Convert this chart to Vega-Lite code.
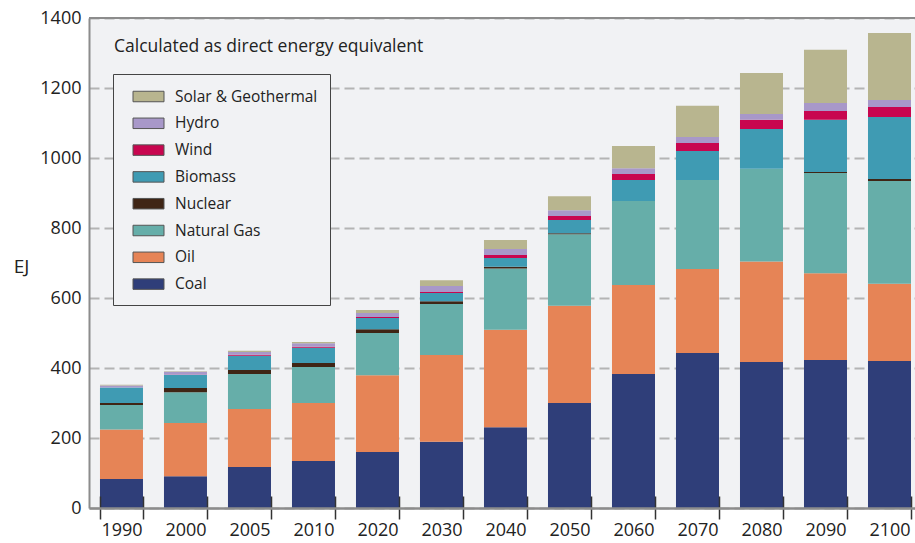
{
  "$schema": "https://vega.github.io/schema/vega-lite/v6.json",
  "width": 826,
  "height": 490,
  "autosize": {"type": "none"},
  "padding": {"left": 89, "top": 18, "right": 0, "bottom": 35},
  "background": "white",
  "title": {
    "text": "Calculated as direct energy equivalent",
    "anchor": "start",
    "frame": "group",
    "orient": "top",
    "baseline": "alphabetic",
    "offset": 0,
    "dx": 25,
    "dy": 60,
    "fontSize": 17.5,
    "fontWeight": "normal",
    "color": "#222"
  },
  "data": {
    "values": [
      {"year": "1990", "source": "Coal", "EJ": 83, "k": 1},
      {"year": "1990", "source": "Oil", "EJ": 141, "k": 2},
      {"year": "1990", "source": "Natural Gas", "EJ": 70, "k": 3},
      {"year": "1990", "source": "Nuclear", "EJ": 6, "k": 4},
      {"year": "1990", "source": "Biomass", "EJ": 44, "k": 5},
      {"year": "1990", "source": "Wind", "EJ": 0, "k": 6},
      {"year": "1990", "source": "Hydro", "EJ": 6, "k": 7},
      {"year": "1990", "source": "Solar & Geothermal", "EJ": 2, "k": 8},
      {"year": "2000", "source": "Coal", "EJ": 91, "k": 1},
      {"year": "2000", "source": "Oil", "EJ": 152, "k": 2},
      {"year": "2000", "source": "Natural Gas", "EJ": 88, "k": 3},
      {"year": "2000", "source": "Nuclear", "EJ": 12, "k": 4},
      {"year": "2000", "source": "Biomass", "EJ": 37, "k": 5},
      {"year": "2000", "source": "Wind", "EJ": 1, "k": 6},
      {"year": "2000", "source": "Hydro", "EJ": 8, "k": 7},
      {"year": "2000", "source": "Solar & Geothermal", "EJ": 2, "k": 8},
      {"year": "2005", "source": "Coal", "EJ": 117, "k": 1},
      {"year": "2005", "source": "Oil", "EJ": 166, "k": 2},
      {"year": "2005", "source": "Natural Gas", "EJ": 100, "k": 3},
      {"year": "2005", "source": "Nuclear", "EJ": 11, "k": 4},
      {"year": "2005", "source": "Biomass", "EJ": 41, "k": 5},
      {"year": "2005", "source": "Wind", "EJ": 3, "k": 6},
      {"year": "2005", "source": "Hydro", "EJ": 8, "k": 7},
      {"year": "2005", "source": "Solar & Geothermal", "EJ": 3, "k": 8},
      {"year": "2010", "source": "Coal", "EJ": 134, "k": 1},
      {"year": "2010", "source": "Oil", "EJ": 166, "k": 2},
      {"year": "2010", "source": "Natural Gas", "EJ": 103, "k": 3},
      {"year": "2010", "source": "Nuclear", "EJ": 11, "k": 4},
      {"year": "2010", "source": "Biomass", "EJ": 44, "k": 5},
      {"year": "2010", "source": "Wind", "EJ": 3, "k": 6},
      {"year": "2010", "source": "Hydro", "EJ": 10, "k": 7},
      {"year": "2010", "source": "Solar & Geothermal", "EJ": 3, "k": 8},
      {"year": "2020", "source": "Coal", "EJ": 160, "k": 1},
      {"year": "2020", "source": "Oil", "EJ": 219, "k": 2},
      {"year": "2020", "source": "Natural Gas", "EJ": 121, "k": 3},
      {"year": "2020", "source": "Nuclear", "EJ": 11, "k": 4},
      {"year": "2020", "source": "Biomass", "EJ": 32, "k": 5},
      {"year": "2020", "source": "Wind", "EJ": 3, "k": 6},
      {"year": "2020", "source": "Hydro", "EJ": 11, "k": 7},
      {"year": "2020", "source": "Solar & Geothermal", "EJ": 9, "k": 8},
      {"year": "2030", "source": "Coal", "EJ": 189, "k": 1},
      {"year": "2030", "source": "Oil", "EJ": 248, "k": 2},
      {"year": "2030", "source": "Natural Gas", "EJ": 146, "k": 3},
      {"year": "2030", "source": "Nuclear", "EJ": 8, "k": 4},
      {"year": "2030", "source": "Biomass", "EJ": 23, "k": 5},
      {"year": "2030", "source": "Wind", "EJ": 3, "k": 6},
      {"year": "2030", "source": "Hydro", "EJ": 17, "k": 7},
      {"year": "2030", "source": "Solar & Geothermal", "EJ": 17, "k": 8},
      {"year": "2040", "source": "Coal", "EJ": 231, "k": 1},
      {"year": "2040", "source": "Oil", "EJ": 278, "k": 2},
      {"year": "2040", "source": "Natural Gas", "EJ": 175, "k": 3},
      {"year": "2040", "source": "Nuclear", "EJ": 5, "k": 4},
      {"year": "2040", "source": "Biomass", "EJ": 25, "k": 5},
      {"year": "2040", "source": "Wind", "EJ": 9, "k": 6},
      {"year": "2040", "source": "Hydro", "EJ": 17, "k": 7},
      {"year": "2040", "source": "Solar & Geothermal", "EJ": 26, "k": 8},
      {"year": "2050", "source": "Coal", "EJ": 300, "k": 1},
      {"year": "2050", "source": "Oil", "EJ": 278, "k": 2},
      {"year": "2050", "source": "Natural Gas", "EJ": 204, "k": 3},
      {"year": "2050", "source": "Nuclear", "EJ": 3, "k": 4},
      {"year": "2050", "source": "Biomass", "EJ": 38, "k": 5},
      {"year": "2050", "source": "Wind", "EJ": 11, "k": 6},
      {"year": "2050", "source": "Hydro", "EJ": 17, "k": 7},
      {"year": "2050", "source": "Solar & Geothermal", "EJ": 40, "k": 8},
      {"year": "2060", "source": "Coal", "EJ": 383, "k": 1},
      {"year": "2060", "source": "Oil", "EJ": 254, "k": 2},
      {"year": "2060", "source": "Natural Gas", "EJ": 240, "k": 3},
      {"year": "2060", "source": "Nuclear", "EJ": 0, "k": 4},
      {"year": "2060", "source": "Biomass", "EJ": 60, "k": 5},
      {"year": "2060", "source": "Wind", "EJ": 17, "k": 6},
      {"year": "2060", "source": "Hydro", "EJ": 17, "k": 7},
      {"year": "2060", "source": "Solar & Geothermal", "EJ": 63, "k": 8},
      {"year": "2070", "source": "Coal", "EJ": 443, "k": 1},
      {"year": "2070", "source": "Oil", "EJ": 240, "k": 2},
      {"year": "2070", "source": "Natural Gas", "EJ": 254, "k": 3},
      {"year": "2070", "source": "Nuclear", "EJ": 0, "k": 4},
      {"year": "2070", "source": "Biomass", "EJ": 83, "k": 5},
      {"year": "2070", "source": "Wind", "EJ": 23, "k": 6},
      {"year": "2070", "source": "Hydro", "EJ": 17, "k": 7},
      {"year": "2070", "source": "Solar & Geothermal", "EJ": 89, "k": 8},
      {"year": "2080", "source": "Coal", "EJ": 417, "k": 1},
      {"year": "2080", "source": "Oil", "EJ": 287, "k": 2},
      {"year": "2080", "source": "Natural Gas", "EJ": 265, "k": 3},
      {"year": "2080", "source": "Nuclear", "EJ": 0, "k": 4},
      {"year": "2080", "source": "Biomass", "EJ": 114, "k": 5},
      {"year": "2080", "source": "Wind", "EJ": 26, "k": 6},
      {"year": "2080", "source": "Hydro", "EJ": 17, "k": 7},
      {"year": "2080", "source": "Solar & Geothermal", "EJ": 117, "k": 8},
      {"year": "2090", "source": "Coal", "EJ": 423, "k": 1},
      {"year": "2090", "source": "Oil", "EJ": 248, "k": 2},
      {"year": "2090", "source": "Natural Gas", "EJ": 286, "k": 3},
      {"year": "2090", "source": "Nuclear", "EJ": 3, "k": 4},
      {"year": "2090", "source": "Biomass", "EJ": 149, "k": 5},
      {"year": "2090", "source": "Wind", "EJ": 25, "k": 6},
      {"year": "2090", "source": "Hydro", "EJ": 23, "k": 7},
      {"year": "2090", "source": "Solar & Geothermal", "EJ": 152, "k": 8},
      {"year": "2100", "source": "Coal", "EJ": 420, "k": 1},
      {"year": "2100", "source": "Oil", "EJ": 221, "k": 2},
      {"year": "2100", "source": "Natural Gas", "EJ": 293, "k": 3},
      {"year": "2100", "source": "Nuclear", "EJ": 6, "k": 4},
      {"year": "2100", "source": "Biomass", "EJ": 177, "k": 5},
      {"year": "2100", "source": "Wind", "EJ": 29, "k": 6},
      {"year": "2100", "source": "Hydro", "EJ": 20, "k": 7},
      {"year": "2100", "source": "Solar & Geothermal", "EJ": 191, "k": 8}
    ]
  },
  "layer": [
    {
      "mark": {"type": "bar"},
      "encoding": {
        "x": {
          "field": "year",
          "type": "nominal",
          "sort": null,
          "scale": {"paddingInner": 0.328, "paddingOuter": 0.117, "align": 0.733, "round": false},
          "axis": {
            "title": null,
            "labelAngle": 0,
            "labelFontSize": 18,
            "labelColor": "#222",
            "labelPadding": 2,
            "tickBand": "extent",
            "ticks": true,
            "tickSize": 11,
            "tickColor": "#333",
            "tickWidth": 1.5,
            "domainColor": "#8c8c8c",
            "domainWidth": 2.5,
            "grid": true,
            "gridColor": "#333",
            "gridWidth": 1.5,
            "gridOpacity": 1,
            "gridDash": [0, 478, 12, 1000],
            "zindex": 1
          }
        },
        "y": {
          "field": "EJ",
          "type": "quantitative",
          "aggregate": "sum",
          "stack": "zero",
          "scale": {"domain": [0, 1400], "nice": false},
          "axis": {
            "title": "EJ",
            "titleAngle": 0,
            "titleFontSize": 19,
            "titleFontWeight": "normal",
            "titleColor": "#222",
            "titleX": -68,
            "titleY": 248,
            "titleAlign": "center",
            "titleBaseline": "middle",
            "values": [0, 200, 400, 600, 800, 1000, 1200, 1400],
            "format": "d",
            "labelFontSize": 18,
            "labelColor": "#222",
            "labelPadding": 8,
            "ticks": false,
            "tickSize": 0,
            "domainColor": "#8c8c8c",
            "domainWidth": 2,
            "grid": true,
            "gridColor": "#b4b4b4",
            "gridWidth": 2,
            "gridDash": [10, 5]
          }
        },
        "color": {
          "field": "source",
          "type": "nominal",
          "scale": {
            "domain": ["Solar & Geothermal", "Hydro", "Wind", "Biomass", "Nuclear", "Natural Gas", "Oil", "Coal"],
            "range": ["#b8b58f", "#a898c9", "#c8064f", "#3f9bb3", "#3f2515", "#66aea9", "#e68456", "#2f3e79"]
          },
          "legend": {
            "title": null,
            "orient": "none",
            "legendX": 24,
            "legendY": 56,
            "padding": 12,
            "strokeColor": "#444",
            "fillColor": "#f1f2f4",
            "symbolType": "M-1.55,-0.525H1.55V0.525H-1.55Z",
            "symbolSize": 400,
            "symbolStrokeColor": "#555",
            "symbolStrokeWidth": 1,
            "symbolOpacity": 1,
            "symbolOffset": 13,
            "labelOffset": 16,
            "labelFontSize": 15.5,
            "labelColor": "#222",
            "rowPadding": 7.8
          }
        },
        "order": {"field": "k", "type": "quantitative", "sort": "ascending"}
      }
    },
    {
      "mark": {"type": "rule", "color": "#8c8c8c", "strokeWidth": 1.5},
      "encoding": {"y": {"datum": 1400}}
    }
  ],
  "config": {
    "font": "Open Sans",
    "view": {"fill": "#f1f2f4", "stroke": null}
  }
}
